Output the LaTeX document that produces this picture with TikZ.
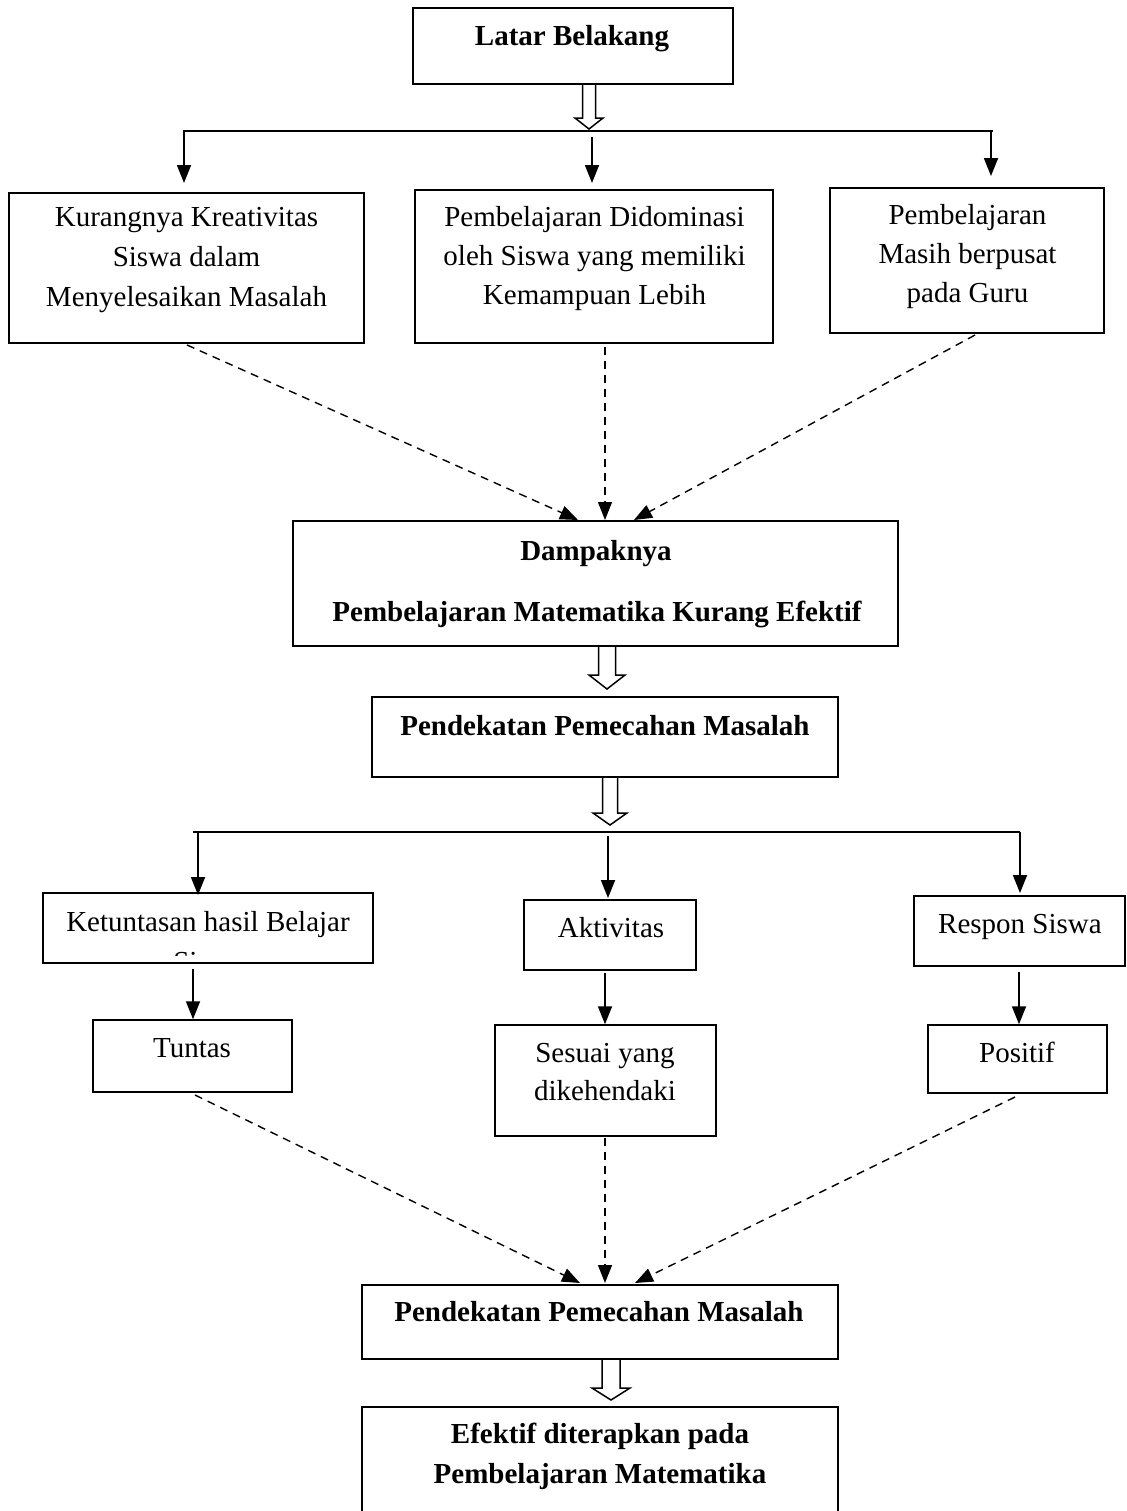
\documentclass[tikz,border=0pt]{standalone}
\usepackage{fontspec}
\setmainfont{Liberation Serif}
\usetikzlibrary{arrows.meta,fit,calc}
\newcommand\hollowarrow[6]{% cx, top, headstart, tip, shaft half, head half
  \draw[hol] (#1-#5,#2) -- (#1+#5,#2) -- (#1+#5,#3) -- (#1+#6,#3) -- (#1,#4)
    -- (#1-#6,#3) -- (#1-#5,#3) -- cycle;}
\begin{document}
\begin{tikzpicture}[x=0.5pt,y=-0.5pt,
  box/.style={draw,line width=0.75pt,inner sep=0pt},
  lbl/.style={inner sep=0pt,anchor=base,font=\fontsize{14.5}{17}\selectfont},
  blbl/.style={inner sep=0pt,anchor=base,font=\fontsize{14.5}{17}\selectfont\bfseries},
  arr/.style={line width=0.9pt,-{Triangle[width=7pt,length=9pt]}},
  darr/.style={line width=0.7pt,dash pattern=on 4pt off 3pt,-{Triangle[width=7pt,length=9pt]}},
  hol/.style={draw,line width=0.75pt,fill=white}]
\useasboundingbox[fill=white] (0,0) rectangle (1126,1511);

% ---------- boxes ----------
\node[box,fit={(413,8)(733,84)}] (lb) {};
\node[blbl] (lbt) at (572,45) {Latar Belakang};

\node[box,fit={(9,193)(364,343)}] (k1) {};
\node[lbl] (k1a) at (186.5,226) {Kurangnya Kreativitas};
\node[lbl] (k1b) at (186.5,266) {Siswa dalam};
\node[lbl] (k1c) at (186.5,306) {Menyelesaikan Masalah};

\node[box,fit={(415,190)(773,343)}] (k2) {};
\node[lbl] (k2a) at (594.5,226) {Pembelajaran Didominasi};
\node[lbl] (k2b) at (594.5,265) {oleh Siswa yang memiliki};
\node[lbl] (k2c) at (594.5,304) {Kemampuan Lebih};

\node[box,fit={(830,188)(1104,333)}] (k3) {};
\node[lbl] (k3a) at (967.5,224) {Pembelajaran};
\node[lbl] (k3b) at (967.5,263) {Masih berpusat};
\node[lbl] (k3c) at (967.5,302) {pada Guru};

\node[box,fit={(293,521)(898,646)}] (dp) {};
\node[blbl] (dpa) at (596,560) {Dampaknya};
\node[blbl] (dpb) at (597,621) {Pembelajaran Matematika Kurang Efektif};

\node[box,fit={(372,697)(838,777)}] (pm1) {};
\node[blbl] (pm1t) at (605,735) {Pendekatan Pemecahan Masalah};

\node[box,fit={(43,893)(373,963)}] (kt) {};
\begin{scope}
  \clip (43,893) rectangle (373,955);
  \node[lbl] (kta) at (208,931) {Ketuntasan hasil Belajar};
  \node[lbl] (ktb) at (208,971) {Siswa};
\end{scope}

\node[box,fit={(524,900)(696,970)}] (ak) {};
\node[lbl] (akt) at (611,937) {Aktivitas};

\node[box,fit={(914,896)(1125,966)}] (rs) {};
\node[lbl] (rst) at (1020,933) {Respon Siswa};

\node[box,fit={(93,1020)(292,1092)}] (tt) {};
\node[lbl] (ttt) at (192,1057) {Tuntas};

\node[box,fit={(495,1025)(716,1136)}] (sy) {};
\node[lbl] (sya) at (605,1062) {Sesuai yang};
\node[lbl] (syb) at (605,1100) {dikehendaki};

\node[box,fit={(928,1025)(1107,1093)}] (ps) {};
\node[lbl] (pst) at (1017,1062) {Positif};

\node[box,fit={(362,1285)(838,1359)}] (pm2) {};
\node[blbl] (pm2t) at (599,1321) {Pendekatan Pemecahan Masalah};

\node[box,fit={(362,1407)(838,1540)}] (ef) {};
\node[blbl] (efa) at (600,1443) {Efektif diterapkan pada};
\node[blbl] (efb) at (600,1483) {Pembelajaran Matematika};

% ---------- hollow arrows ----------
\hollowarrow{589}{84}{118}{129}{6.5}{14}
\hollowarrow{607}{646}{675}{689}{8.5}{18}
\hollowarrow{610}{777}{813}{825}{7.5}{17}
\hollowarrow{611}{1359}{1388}{1400}{9}{19}

% ---------- top branching ----------
\coordinate (tl) at (183,131);
\coordinate (tr) at (993,131);
\draw[line width=0.9pt] (tl) -- (tr);
\coordinate (t1) at (184,131);
\coordinate (t2) at (592,137);
\coordinate (t3) at (991,131);
\draw[arr] (t1) -- (t1 |- 0,183);
\draw[arr] (t2) -- (t2 |- 0,183);
\draw[arr] (t3) -- (t3 |- 0,176);

% ---------- dashed to Dampaknya ----------
\coordinate (d1s) at (187,345);
\coordinate (d2s) at (605,347);
\coordinate (d3s) at (975,335);
\coordinate (d1e) at (578,520);
\coordinate (d2e) at (605,520);
\coordinate (d3e) at (634,520);
\draw[darr] (d1s) -- (d1e);
\draw[darr] (d2s) -- (d2e);
\draw[darr] (d3s) -- (d3e);

% ---------- bottom branching ----------
\coordinate (bl) at (193,832);
\coordinate (br) at (1020,832);
\draw[line width=0.9pt] (bl) -- (br);
\coordinate (b1) at (198,832);
\coordinate (b2) at (608,836);
\coordinate (b3) at (1020,832);
\draw[arr] (b1) -- (b1 |- 0,895);
\draw[arr] (b2) -- (b2 |- 0,898);
\draw[arr] (b3) -- (b3 |- 0,893);

% ---------- second level arrows ----------
\coordinate (s1) at (193,969);
\coordinate (s2) at (605,973);
\coordinate (s3) at (1019,972);
\draw[arr] (s1) -- (s1 |- tt.north) ;
\draw[arr] (s2) -- (s2 |- sy.north);
\draw[arr] (s3) -- (s3 |- ps.north);

% ---------- dashed to Pendekatan 2 ----------
\coordinate (e1s) at (195,1095);
\coordinate (e2s) at (605,1138);
\coordinate (e3s) at (1015,1097);
\coordinate (e1e) at (580,1283);
\coordinate (e2e) at (605,1283);
\coordinate (e3e) at (635,1283);
\draw[darr] (e1s) -- (e1e);
\draw[darr] (e2s) -- (e2e);
\draw[darr] (e3s) -- (e3e);
\end{tikzpicture}
\end{document}
